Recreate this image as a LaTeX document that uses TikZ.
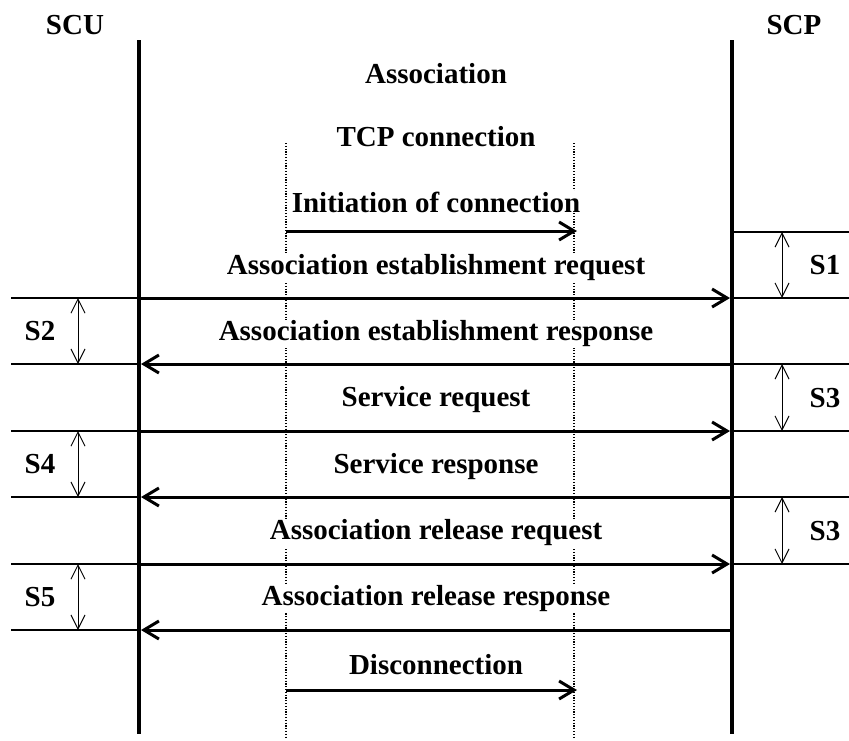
\documentclass[tikz,border=0pt]{standalone}
\usepackage{fontspec}
\setmainfont{Liberation Serif}
\usetikzlibrary{arrows.meta}
\begin{document}
\begin{tikzpicture}[x=1pt,y=-1pt,
 lbl/.style={font=\fontsize{29}{32}\selectfont\bfseries, inner sep=1pt, fill=white},
 slbl/.style={font=\fontsize{29}{32}\selectfont\bfseries, inner sep=1pt},
 life/.style={line width=4.5pt},
 msg/.style={line width=3pt, -{Straight Barb[length=15pt,width=18pt]}},
 tickline/.style={line width=2pt},
 spanarrow/.style={line width=1pt, {Straight Barb[length=14pt,width=14pt]}-{Straight Barb[length=14pt,width=14pt]}},
 dots/.style={line width=1.2pt, dash pattern=on 1.2pt off 1.6pt}]
\useasboundingbox (0,0) rectangle (849,740);
% lifelines
\coordinate (scuTop) at (139,40);
\coordinate (scuBot) at (139,734);
\coordinate (scpTop) at (732,40);
\coordinate (scpBot) at (732,734);
\coordinate (dlTop) at (286,143);
\coordinate (dlBot) at (286,738);
\coordinate (drTop) at (574,143);
\coordinate (drBot) at (574,738);
\draw[dots] (dlTop) -- (dlBot);
\draw[dots] (drTop) -- (drBot);
\draw[life] (scuTop) -- (scuBot);
\draw[life] (scpTop) -- (scpBot);
% headings
\node[slbl] (scu) at (75,25) {SCU};
\node[slbl] (scp) at (794,25) {SCP};
\node[lbl] (assoc) at (436,74) {Association};
\node[lbl] (tcp) at (436,137) {TCP connection};
% message labels
\node[lbl] (t0) at (436,202) {Initiation of connection};
\node[lbl] (t1) at (436,268) {Association establishment request};
\node[lbl] (t2) at (436,334) {Association establishment response};
\node[lbl] (t3) at (436,400) {Service request};
\node[lbl] (t4) at (436,467) {Service response};
\node[lbl] (t5) at (436,533) {Association release request};
\node[lbl] (t6) at (436,599) {Association release response};
\node[lbl] (t7) at (436,665) {Disconnection};
% message arrow ends
\coordinate (i0) at (286,231);  \coordinate (i1) at (577,231);
\coordinate (d0) at (286,690);  \coordinate (d1) at (577,690);
\foreach \n/\y in {a/298,b/364,c/431,d/497,e/564,f/630}{
  \coordinate (L\n) at (141,\y);
  \coordinate (R\n) at (730,\y);
}
\draw[msg] (i0) -- (i1);
\draw[msg] (d0) -- (d1);
\draw[msg] (La) -- (Ra);
\draw[msg] (Rb) -- (Lb);
\draw[msg] (Lc) -- (Rc);
\draw[msg] (Rd) -- (Ld);
\draw[msg] (Le) -- (Re);
\draw[msg] (Rf) -- (Lf);
% side ticks
\foreach \n/\y in {0/232,1/298,2/364,3/431,4/497,5/564}{
  \coordinate (rt\n a) at (734,\y);
  \coordinate (rt\n b) at (849,\y);
  \draw[tickline] (rt\n a) -- (rt\n b);
}
\foreach \n/\y in {1/298,2/364,3/431,4/497,5/564,6/630}{
  \coordinate (lt\n a) at (11,\y);
  \coordinate (lt\n b) at (137,\y);
  \draw[tickline] (lt\n a) -- (lt\n b);
}
% spans
\coordinate (s1a) at (782,232); \coordinate (s1b) at (782,298);
\coordinate (s3a) at (782,364); \coordinate (s3b) at (782,431);
\coordinate (s3c) at (782,497); \coordinate (s3d) at (782,564);
\coordinate (s2a) at (78,298);  \coordinate (s2b) at (78,364);
\coordinate (s4a) at (78,431);  \coordinate (s4b) at (78,497);
\coordinate (s5a) at (78,564);  \coordinate (s5b) at (78,630);
\draw[spanarrow] (s1a) -- (s1b);
\draw[spanarrow] (s3a) -- (s3b);
\draw[spanarrow] (s3c) -- (s3d);
\draw[spanarrow] (s2a) -- (s2b);
\draw[spanarrow] (s4a) -- (s4b);
\draw[spanarrow] (s5a) -- (s5b);
\node[slbl] (S1) at (825,265) {S1};
\node[slbl] (S3a) at (825,398) {S3};
\node[slbl] (S3b) at (825,531) {S3};
\node[slbl] (S2) at (40,331) {S2};
\node[slbl] (S4) at (40,464) {S4};
\node[slbl] (S5) at (40,597) {S5};
\end{tikzpicture}
\end{document}
